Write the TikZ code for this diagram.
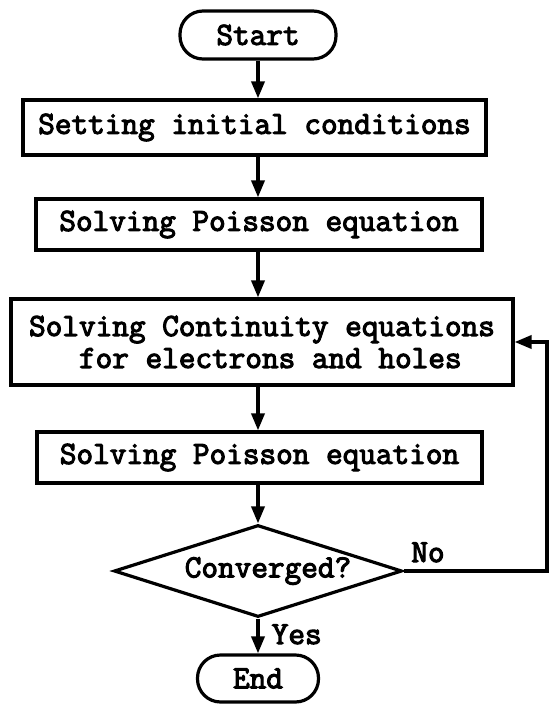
\documentclass[tikz,border=0pt]{standalone}
\usepackage{fontspec}
\newfontfamily\courfont{Latin Modern Mono}[FakeBold=3.4]
\usetikzlibrary{arrows.meta,shapes.geometric}
\tikzset{
  every node/.style={font=\courfont\fontsize{32.3}{32}\selectfont, inner sep=0pt},
  procbox/.style={draw, line width=3.2pt, rectangle},
  termbox/.style={draw, line width=3.2pt, rectangle, rounded corners=23pt},
  decbox/.style={draw, line width=3.2pt, diamond, aspect=3.13},
  flow/.style={line width=3.5pt, -{Triangle[width=13pt,length=17pt]}},
}
\begin{document}
\begin{tikzpicture}[x=1pt,y=-1pt]
\useasboundingbox (0,0) rectangle (550,704);
\node[termbox, minimum width=156pt, minimum height=48pt] (start) at (258,35) {Start};
\node[procbox, minimum width=463pt, minimum height=55pt] (box1) at (254.5,127.5) {Setting initial conditions};
\node[procbox, minimum width=446pt, minimum height=51pt] (box2) at (259,224.5) {Solving Poisson equation};
\node[procbox, minimum width=502pt, minimum height=86pt, align=left] (box3) at (262,342) {Solving Continuity equations\\\phantom{xxx}for electrons and holes};
\node[procbox, minimum width=445pt, minimum height=51pt] (box4) at (259.5,457.5) {Solving Poisson equation};
\node[decbox, minimum width=288pt, minimum height=92pt] (dia) at (258,571) {\hspace*{20pt}Converged?};
\node[termbox, minimum width=121pt, minimum height=47pt] (end) at (258,678.5) {End};
\coordinate (fbR) at (547,571);
\draw[flow] (start.south) -- (start.south |- box1.north);
\draw[flow] (start.south |- box1.south) -- (start.south |- box2.north);
\draw[flow] (start.south |- box2.south) -- (start.south |- box3.north);
\draw[flow] (start.south |- box3.south) -- (start.south |- box4.north);
\draw[flow] (start.south |- box4.south) -- (dia.north);
\draw[flow] (dia.south) -- node[pos=0.45, right=12pt] (yes) {Yes} (end.north);
\draw[flow] (dia.east) -- node[pos=0.17, above=7pt] (no) {No} (fbR) |- (box3.east);
\end{tikzpicture}
\end{document}
